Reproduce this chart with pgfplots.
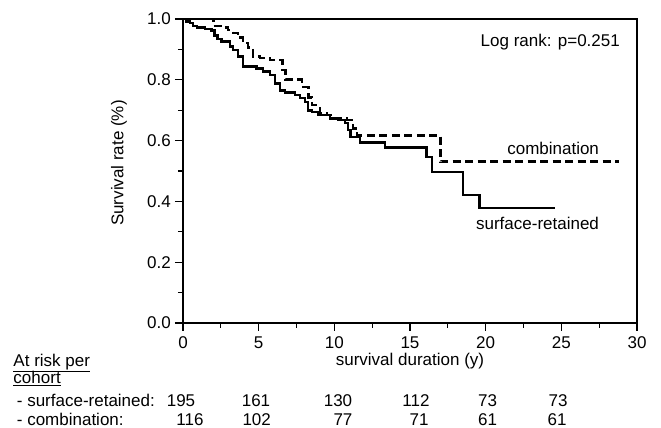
\documentclass[border=0pt]{standalone}
\usepackage{fontspec}
\setmainfont{Liberation Sans}
\usepackage{pgfplots}
\pgfplotsset{compat=1.18}

\begin{document}
\fontsize{17}{20}\selectfont
\begin{tikzpicture}
\path[use as bounding box] (-183pt,-105pt) rectangle (478pt,323pt);
\begin{axis}[
  at={(0,0)}, anchor=south west,
  scale only axis,
  width=454pt, height=304pt,
  xmin=0, xmax=30, ymin=0, ymax=1,
  xtick={0,5,...,30}, minor x tick num=1,
  ytick={0,0.2,0.4,0.6,0.8,1.0}, minor y tick num=1,
  xtick pos=left, ytick pos=left,
  tick align=outside,
  major tick length=8pt, minor tick length=5pt,
  every tick/.style={black, line width=1.1pt},
  axis line style={line width=1.4pt},
  /pgf/number format/assume math mode=true,
  yticklabel style={/pgf/number format/fixed, /pgf/number format/fixed zerofill,
    /pgf/number format/precision=1, anchor=east, inner sep=0pt, xshift=-4pt},
  xticklabel style={anchor=base, inner sep=0pt, yshift=-17.5pt},
  xlabel={survival duration (y)},
  ylabel={Survival rate (\%)},
  xlabel style={at={(axis description cs:0.5,0)}, anchor=base, inner sep=0pt, yshift=-42.5pt},
  ylabel style={at={(axis description cs:-0.1233,0.526)}, anchor=south, inner sep=0pt},
  clip=false,
]
% surface-retained
\addplot[const plot, black, line width=2.8pt] coordinates {
(0,1.0) (0.2,0.993) (0.46,0.987) (0.66,0.977) (0.93,0.973) (1.45,0.967)
(1.9,0.961) (2.1,0.947) (2.3,0.934) (2.56,0.925) (3.1,0.909) (3.3,0.898)
(3.63,0.876) (3.97,0.843) (4.87,0.836) (5.29,0.826) (5.75,0.816) (6.08,0.789)
(6.41,0.766) (6.74,0.757) (7.4,0.750) (7.73,0.740) (8.06,0.727) (8.26,0.700)
(8.53,0.694) (8.92,0.684) (9.72,0.674) (10.24,0.668) (10.7,0.658) (10.9,0.635)
(11.05,0.612) (11.7,0.595) (13.35,0.576) (16.1,0.546) (16.45,0.497)
(18.5,0.421) (19.6,0.378) (24.6,0.378)
};
% combination
\addplot[const plot, black, line width=2.8pt, dash pattern=on 8pt off 4.5pt] coordinates {
(0,1.0) (2.0,0.977) (2.56,0.973) (2.97,0.964) (3.3,0.954) (3.63,0.938)
(3.97,0.921) (4.3,0.905) (4.63,0.876) (5.09,0.872) (5.75,0.865) (6.6,0.832)
(6.75,0.800) (7.86,0.776) (8.3,0.743) (8.53,0.717) (8.92,0.707) (9.05,0.690)
(9.52,0.684) (9.9,0.674) (10.84,0.668) (11.24,0.641) (11.5,0.618)
(17.0,0.530) (28.8,0.530)
};
\node[anchor=base east, inner sep=0pt] at (axis cs:28.88,0.909) {Log rank: p=0.251};
\node[anchor=base east, inner sep=0pt] at (axis cs:27.5,0.555) {combination};
\node[anchor=base east, inner sep=0pt] at (axis cs:27.5,0.306) {surface-retained};
\end{axis}
% at-risk table
\node[anchor=base west, inner sep=0pt] at (-169.7pt,-43.2pt) {\underline{At risk per}};
\node[anchor=base west, inner sep=0pt] at (-169.7pt,-60.8pt) {\underline{cohort}};
\node[anchor=base west, inner sep=0pt] at (-166.3pt,-83.2pt) {- surface-retained:};
\node[anchor=base west, inner sep=0pt] at (-166.3pt,-102.2pt) {- combination:};
\foreach \x/\n in {-2/195,73/161,155/130,233/112,304.5/73,375/73}
  \node[anchor=base, inner sep=0pt] at (\x pt,-83.2pt) {\n};
\foreach \x/\n in {7/116,73.7/102,160/77,236/71,304.5/61,374/61}
  \node[anchor=base, inner sep=0pt] at (\x pt,-102.2pt) {\n};
\end{tikzpicture}
\end{document}
